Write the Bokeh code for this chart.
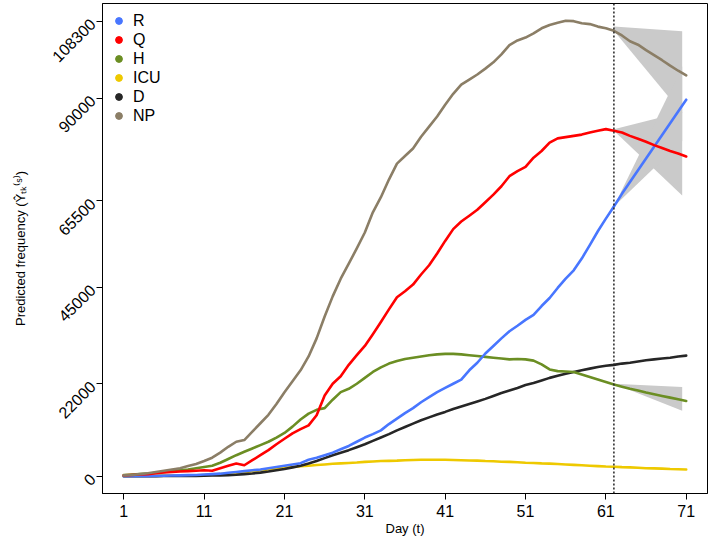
import math
from bokeh.plotting import figure
from bokeh.models import Range1d, FixedTicker, Span, Legend, LegendItem, NumeralTickFormatter
from bokeh.embed import file_html
from bokeh.resources import INLINE

# ---- data (values in thousands) ----
days = list(range(1, 72))

R_k = [0, 0, 0, 0, 0.05, 0.1, 0.15, 0.2, 0.25, 0.3, 0.4, 0.5, 0.6, 0.8, 1.0, 1.2, 1.4, 1.6, 1.9, 2.2,
       2.5, 2.8, 3.1, 3.9, 4.4, 5.0, 5.6, 6.4, 7.2, 8.2, 9.2, 10.0, 10.9, 12.4, 13.7, 15.0, 16.2, 17.6, 18.8, 20.0,
       21.0, 22.0, 23.0, 25.2, 27.0, 29.2, 31.0, 32.8, 34.5, 35.8, 37.2, 38.4, 40.5, 42.4, 44.8, 47.0, 49.0, 51.8, 55.0, 58.3,
       61.3, 64.2, 67.2, 70.0, 72.8, 75.6, 78.4, 81.2, 84.0, 86.8, 89.6]
Q_k = [0.2, 0.3, 0.4, 0.5, 0.7, 0.9, 1.0, 1.1, 1.2, 1.3, 1.4, 1.3, 1.9, 2.5, 3.0, 2.6, 3.8, 5.0, 6.2, 7.6,
       8.9, 10.2, 11.2, 12.1, 14.5, 19.2, 22.0, 23.8, 26.5, 28.8, 31.0, 33.8, 36.7, 39.7, 42.6, 44.0, 45.6, 48.0, 50.2, 53.0,
       56.0, 58.8, 60.6, 62.0, 63.4, 65.2, 67.0, 69.0, 71.4, 72.6, 73.6, 75.8, 77.4, 79.4, 80.4, 80.7, 81.0, 81.3, 81.8, 82.2,
       82.6, 82.2, 81.8, 81.0, 80.3, 79.6, 78.8, 78.1, 77.4, 76.8, 76.1]
H_k = [0.3, 0.4, 0.5, 0.6, 0.8, 1.0, 1.2, 1.4, 1.6, 1.9, 2.2, 2.5, 3.2, 4.1, 5.0, 5.8, 6.6, 7.4, 8.2, 9.2,
       10.3, 11.8, 13.5, 14.9, 15.8, 16.2, 18.2, 20.0, 20.8, 22.0, 23.4, 24.8, 25.9, 26.8, 27.4, 27.9, 28.2, 28.5, 28.8, 29.0,
       29.1, 29.1, 29.0, 28.8, 28.6, 28.4, 28.2, 28.0, 27.8, 27.9, 27.8, 27.5, 26.6, 25.4, 25.0, 24.9, 24.8, 24.2, 23.6, 23.0,
       22.4, 21.8, 21.3, 20.8, 20.4, 19.9, 19.5, 19.1, 18.7, 18.3, 17.9]
ICU_k = [0.05, 0.05, 0.05, 0.05, 0.05, 0.1, 0.1, 0.1, 0.15, 0.2, 0.3, 0.4, 0.5, 0.65, 0.8, 1.0, 1.2, 1.4, 1.6, 1.8,
         2.0, 2.2, 2.35, 2.5, 2.65, 2.8, 2.95, 3.05, 3.15, 3.25, 3.4, 3.5, 3.6, 3.65, 3.7, 3.8, 3.85, 3.9, 3.9, 3.9,
         3.9, 3.85, 3.8, 3.75, 3.7, 3.6, 3.55, 3.45, 3.4, 3.3, 3.2, 3.15, 3.05, 3.0, 2.9, 2.8, 2.7, 2.6, 2.5, 2.4,
         2.3, 2.25, 2.15, 2.1, 2.0, 1.9, 1.85, 1.8, 1.7, 1.65, 1.6]
D_k = [0, 0, 0, 0, 0.02, 0.03, 0.04, 0.05, 0.07, 0.08, 0.1, 0.15, 0.2, 0.25, 0.35, 0.5, 0.65, 0.85, 1.1, 1.4,
       1.7, 2.1, 2.5, 3.0, 3.6, 4.3, 5.0, 5.6, 6.2, 6.9, 7.6, 8.4, 9.2, 10.0, 10.9, 11.7, 12.5, 13.3, 14.0, 14.7,
       15.3, 16.0, 16.6, 17.2, 17.8, 18.4, 19.1, 19.8, 20.4, 21.0, 21.7, 22.2, 22.8, 23.4, 23.9, 24.4, 24.8, 25.2, 25.6, 26.0,
       26.3, 26.5, 26.8, 27.0, 27.3, 27.6, 27.8, 28.0, 28.2, 28.5, 28.7]
NP_k = [0.2, 0.3, 0.5, 0.7, 1.0, 1.3, 1.6, 1.9, 2.4, 2.9, 3.6, 4.4, 5.6, 7.0, 8.2, 8.6, 10.6, 12.6, 14.6, 17.2,
        20.0, 22.6, 25.2, 28.5, 32.8, 38.0, 42.8, 47.0, 50.6, 54.2, 58.0, 62.8, 66.4, 70.6, 74.4, 76.2, 78.0, 80.8, 83.2, 85.6,
        88.4, 91.0, 93.2, 94.4, 95.6, 97.0, 98.5, 100.4, 102.6, 103.7, 104.4, 105.4, 106.6, 107.4, 107.9, 108.4, 108.3, 107.8, 107.6, 107.0,
        106.6, 106.0, 104.9, 103.5, 102.7, 101.4, 100.2, 99.0, 97.7, 96.5, 95.4]

# forecast bands (start / end of the forecast period)
band_days = [62, 70.5]
NP_lo_k, NP_hi_k = [106.0, 86.4], [107.0, 105.9]
Q_lo_k, Q_hi_k = [82.2, 66.8], [82.6, 86.7]
R_lo_k, R_hi_k = [64.2, 79.8], [64.2, 97.5]
H_lo_k, H_hi_k = [22.0, 15.6], [22.0, 21.2]

forecast_start = 62
y_ticks = [0, 22000, 45000, 65500, 90000, 108300]
x_ticks = [1, 11, 21, 31, 41, 51, 61, 71]

names = ["R", "Q", "H", "ICU", "D", "NP"]
colors = ["#4876FF", "#FF0000", "#6B8E23", "#EEC900", "#262626", "#8B7E66"]
series = [R_k, Q_k, H_k, ICU_k, D_k, NP_k]

def k(v):
    return [x * 1000 for x in v]

FONT = "Liberation Sans"

p = figure(output_backend="svg", toolbar_location=None,
           x_range=Range1d(-1.65, 73.65), y_range=Range1d(-4120, 112500),
           frame_width=605, frame_height=490,
           min_border_left=102, min_border_right=1, min_border_top=3, min_border_bottom=10)
p.xgrid.visible = False
p.ygrid.visible = False
p.outline_line_color = "black"
p.outline_line_width = 1
p.background_fill_color = "white"

band_col = "#CACACA"
for lo, hi in [(NP_lo_k, NP_hi_k), (Q_lo_k, Q_hi_k), (R_lo_k, R_hi_k), (H_lo_k, H_hi_k)]:
    p.varea(x=band_days, y1=k(lo), y2=k(hi), fill_color=band_col, fill_alpha=1.0)

order = [3, 4, 2, 0, 1, 5]
for i in order:
    p.line(days, k(series[i]), line_color=colors[i], line_width=2.6, line_cap="round", line_join="round")

p.add_layout(Span(location=forecast_start, dimension="height", line_color="#222222",
                  line_dash="2 2", line_width=1.5))

# legend (dot markers); the legend-only renderers hold no visible point
items = []
nan = float("nan")
for n, c in zip(names, colors):
    r = p.scatter(x=[nan], y=[nan], size=7, fill_color=c, line_color=c, marker="circle")
    items.append(LegendItem(label=n, renderers=[r]))
leg = Legend(items=items, location="top_left", margin=8, padding=12, spacing=0,
             glyph_width=17, glyph_height=19, label_height=19, label_standoff=6,
             label_text_font=FONT, label_text_font_size="16px", label_text_color="black",
             border_line_color=None, background_fill_alpha=0)
p.add_layout(leg, "center")

for ax in (p.xaxis[0], p.yaxis[0]):
    ax.axis_line_color = "black"
    ax.major_tick_line_color = "black"
    ax.major_tick_out = 6
    ax.major_tick_in = 0
    ax.minor_tick_line_color = None
    ax.major_label_text_font = FONT
    ax.major_label_text_font_size = "16px"
    ax.major_label_text_color = "black"
    ax.axis_label_text_font = FONT
    ax.axis_label_text_font_style = "normal"
    ax.axis_label_text_font_size = "13px"
    ax.axis_label_text_color = "black"

p.xaxis.ticker = FixedTicker(ticks=x_ticks)
p.yaxis.ticker = FixedTicker(ticks=y_ticks)
p.yaxis.formatter = NumeralTickFormatter(format="0")
p.yaxis.major_label_orientation = math.pi / 4
p.xaxis.major_label_standoff = 5
p.yaxis.major_label_standoff = 4
p.xaxis.axis_label = "Day (t)"
p.yaxis.axis_label = "Predicted frequency (Ŷₜₖ⁽ˢ⁾)"
p.xaxis.axis_label_standoff = 1
p.yaxis.axis_label_standoff = 15

open("out.html", "w").write(file_html(p, INLINE))
